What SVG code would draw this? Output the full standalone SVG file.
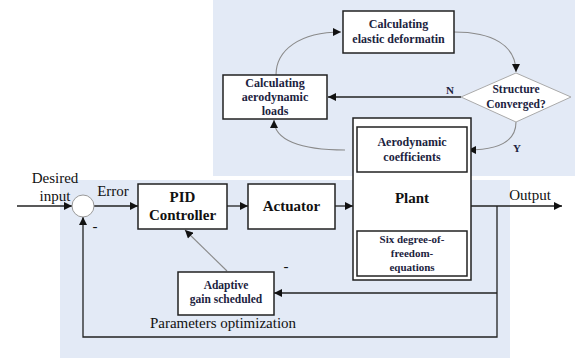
<svg xmlns="http://www.w3.org/2000/svg" width="575" height="358" viewBox="0 0 575 358">
<defs>
<marker id="ah" viewBox="0 0 10 10" refX="10" refY="5" markerWidth="9" markerHeight="8" markerUnits="userSpaceOnUse" orient="auto"><path d="M0,0 L10,5 L0,10 z" fill="#111"/></marker>
</defs>
<style>
.box{fill:#fff;stroke:#222;stroke-width:1.5}
.bt{font-family:"Liberation Serif",serif;font-weight:bold;text-anchor:middle;fill:#1c2340}
.big{font-family:"Liberation Serif",serif;font-weight:bold;text-anchor:middle;fill:#111;font-size:15px}
.pl{font-family:"Liberation Serif",serif;fill:#111;font-size:15px}
.ln{fill:none;stroke:#222;stroke-width:1.3}
.gl{fill:none;stroke:#8a8a8a;stroke-width:1.1}
</style>
<rect x="213" y="0" width="362" height="176" fill="#e3eaf6"/>
<rect x="60" y="180" width="450" height="178" fill="#e3eaf6"/>

<g id="connectors">
<path class="gl" d="M276,75 C276,50 300,32 341,32" marker-end="url(#ah)"/>
<path class="gl" d="M454,32 C492,32 516,45 516,72" marker-end="url(#ah)"/>
<path class="ln" d="M461,97 L328,97" marker-end="url(#ah)"/>
<path class="gl" d="M516,122 C516,140 500,150 468,150" marker-end="url(#ah)"/>
<path class="gl" d="M345,150 C300,150 274,140 274,120" marker-end="url(#ah)"/>
<path class="ln" d="M432,172 L432,231" marker-end="url(#ah)"/>
<path class="ln" d="M17,206 L72,206" marker-end="url(#ah)"/>
<path class="ln" d="M94,206 L138,206" marker-end="url(#ah)"/>
<path class="ln" d="M227,206 L248,206" marker-end="url(#ah)"/>
<path class="ln" d="M335,206 L353,206" marker-end="url(#ah)"/>
<path class="ln" d="M471,206 L562,206" marker-end="url(#ah)"/>
<path class="ln" d="M497,206 L497,337 L83,337 L83,217" marker-end="url(#ah)"/>
<path class="ln" d="M497,293 L274,293" marker-end="url(#ah)"/>
<path class="gl" d="M227,271 L185,230" marker-end="url(#ah)"/>
</g>

<g id="elastic"><rect class="box" x="343" y="11" width="111" height="42"/>
<text class="bt" font-size="12" x="398.5" y="28">Calculating</text>
<text class="bt" font-size="12" x="398.5" y="43">elastic deformatin</text></g>

<g id="aeroloads"><rect class="box" x="223" y="75" width="104" height="44"/>
<text class="bt" font-size="12" x="275" y="87">Calculating</text>
<text class="bt" font-size="12" x="275" y="101">aerodynamic</text>
<text class="bt" font-size="12" x="275" y="115">loads</text></g>

<g id="converged"><polygon points="461,97 516,73 571,97 516,122" fill="#fff" stroke="#aaa" stroke-width="1"/>
<text class="bt" font-size="11.5" x="516" y="93">Structure</text>
<text class="bt" font-size="11.5" x="516" y="108">Converged?</text></g>
<text class="bt" font-size="11" x="450" y="94">N</text>
<text class="bt" font-size="11" x="517" y="152">Y</text>

<g id="plant"><rect class="box" x="353" y="118" width="118" height="162"/>
<text class="big" x="412" y="203">Plant</text></g>

<g id="aerocoef"><rect class="box" x="357" y="127" width="110" height="45"/>
<text class="bt" font-size="12" x="412" y="146">Aerodynamic</text>
<text class="bt" font-size="12" x="412" y="161">coefficients</text></g>

<g id="sixdof"><rect class="box" x="357" y="231" width="110" height="45"/>
<text class="bt" font-size="11" x="412" y="243">Six degree-of-</text>
<text class="bt" font-size="11" x="412" y="257">freedom-</text>
<text class="bt" font-size="11" x="412" y="271">equations</text></g>

<g id="sum"><circle cx="83" cy="206" r="11" fill="#fff" stroke="#999" stroke-width="1"/></g>
<text class="pl" x="55" y="183" text-anchor="middle">Desired</text>
<text class="pl" x="55" y="201" text-anchor="middle">input</text>
<text class="pl" x="113" y="196" text-anchor="middle">Error</text>
<text class="pl" x="95" y="231" text-anchor="middle">-</text>
<text class="pl" x="286" y="271" text-anchor="middle">-</text>

<g id="pid"><rect class="box" x="138" y="184" width="89" height="45"/>
<text class="big" x="182.5" y="202">PID</text>
<text class="big" x="182.5" y="220">Controller</text></g>

<g id="actuator"><rect class="box" x="248" y="184" width="87" height="45"/>
<text class="big" x="291.5" y="211">Actuator</text></g>

<g id="adaptive"><rect class="box" x="178" y="272" width="96" height="43"/>
<text class="bt" font-size="11.5" x="226" y="289" fill="#111">Adaptive</text>
<text class="bt" font-size="11.5" x="226" y="303" fill="#111">gain scheduled</text></g>

<text class="pl" x="223" y="328" text-anchor="middle">Parameters optimization</text>
<text class="pl" x="530" y="200" text-anchor="middle">Output</text>
</svg>
